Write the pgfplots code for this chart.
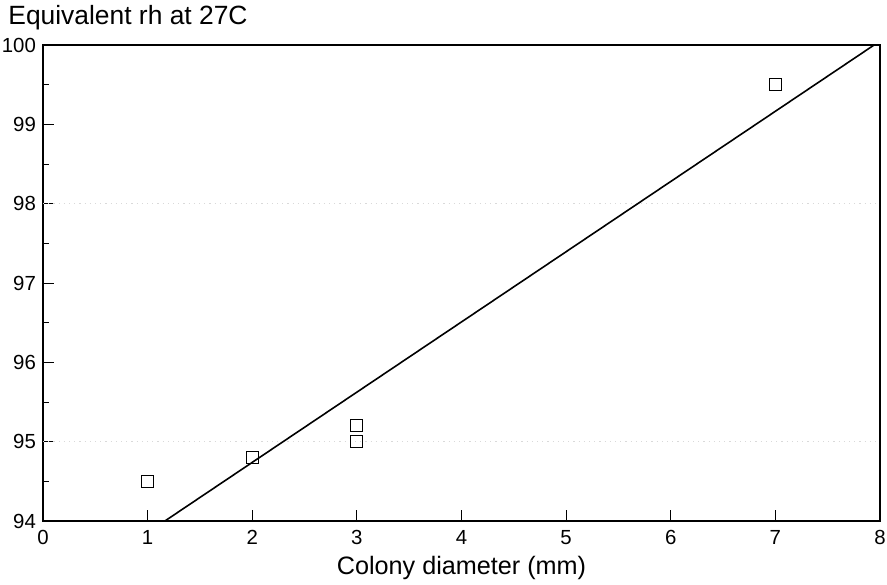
\documentclass[border=0pt]{standalone}
\usepackage{fontspec}
\setmainfont{Liberation Sans}
\usepackage{pgfplots}
\pgfplotsset{compat=1.18}
\usetikzlibrary{calc}

\begin{document}
\begin{tikzpicture}
\useasboundingbox (-21.5pt,-31.5pt) rectangle (422pt,260.5pt);
\begin{axis}[name=ax,at={(0,0)},anchor=south west,
  scale only axis,width=418.5pt,height=238pt,
  xmin=0,xmax=8,ymin=94,ymax=100,
  axis line style={line width=1pt},
  xtick={0,1,...,8},ytick={94,95,...,100},
  minor ytick={94.5,95.5,...,99.5},
  tick align=inside,
  major tick length=5.5pt,minor tick length=3pt,
  tick style={black,line width=0.5pt},
  xtick pos=bottom,ytick pos=left,
  tick label style={font=\fontsize{10.2}{11}\selectfont},
  /pgf/number format/assume math mode=true,
  xticklabel style={yshift=-1pt},
  xlabel={Colony diameter (mm)},
  xlabel style={font=\fontsize{12.6}{14}\selectfont,yshift=1pt},
  clip=true]
\draw[gray!30,dotted,line width=0.6pt] (axis cs:0,95) -- (axis cs:8,95);
\draw[gray!30,dotted,line width=0.6pt] (axis cs:0,98) -- (axis cs:8,98);
\addplot[only marks,mark=square,mark size=3pt,mark options={line width=0.6pt,black}] coordinates {
 (1,94.5) (2,94.8) (3,95.2) (3,95.0) (7,99.5)};
\addplot[black,line width=0.8pt] coordinates {(1.165,94) (8,100.05)};
\end{axis}
\node[anchor=base west,font=\fontsize{13.2}{15}\selectfont,inner sep=0pt]
  at (-17.5pt,248pt) {Equivalent rh at 27C};
\end{tikzpicture}
\end{document}
